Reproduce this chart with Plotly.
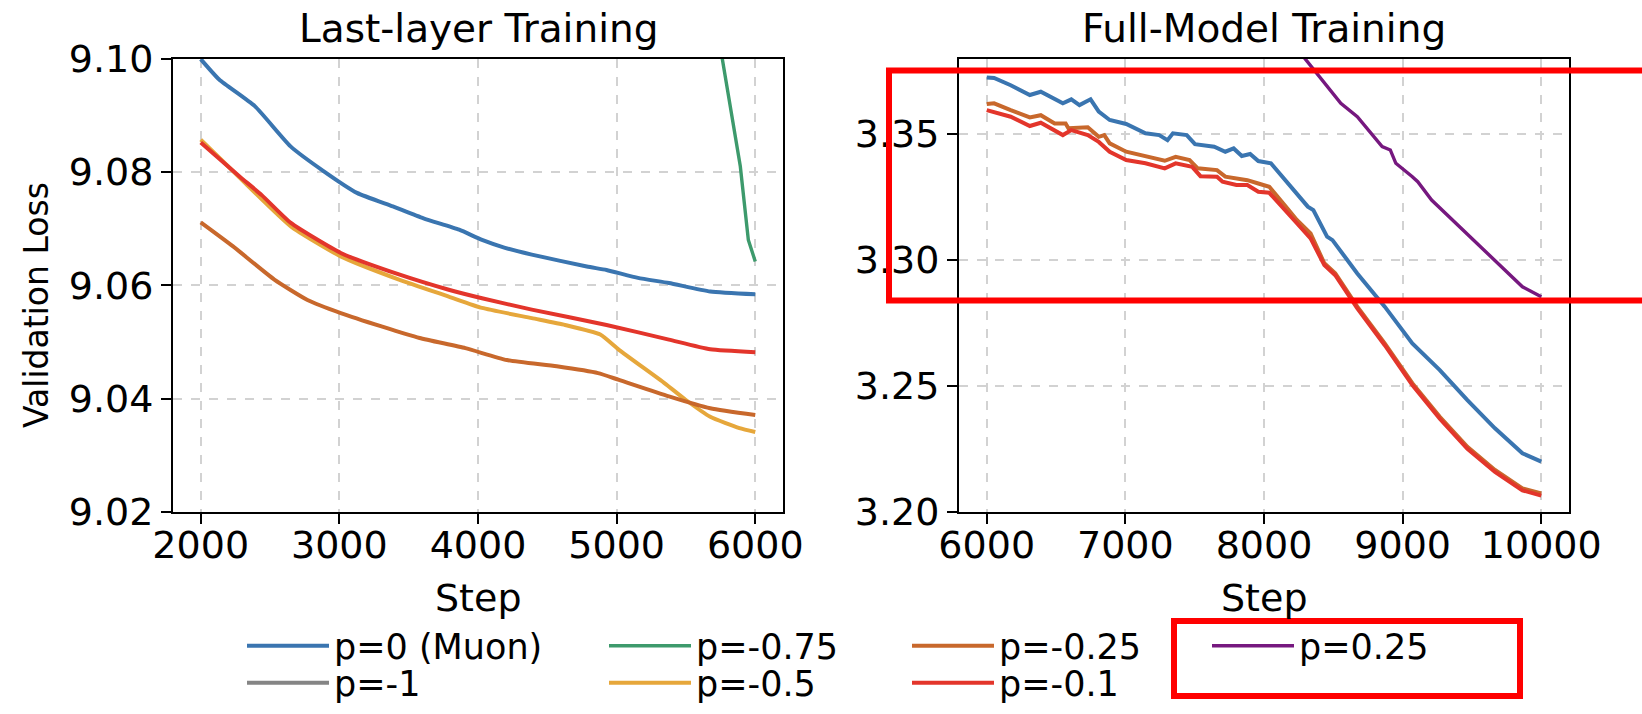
import plotly.graph_objects as go

# ---------------- data ----------------
# Last-layer training (left panel)
blue_L_x = [2000, 2133, 2390, 2648, 2888, 3127, 3386, 3607, 3864, 4029, 4195, 4388, 4785, 4927, 5154, 5377, 5675, 6000]
blue_L_y = [9.0999, 9.0963, 9.0916, 9.0845, 9.0801, 9.0763, 9.0739, 9.0718, 9.0698, 9.0680, 9.0666, 9.0654, 9.0633, 9.0627, 9.0613, 9.0604, 9.0589, 9.0584]

# p=-1 stays above the visible range in both panels (legend entry only)
gray_L_x = [None]
gray_L_y = [None]

green_L_x = [5700, 5760, 5892, 5950, 6000]
green_L_y = [9.109, 9.100, 9.081, 9.068, 9.0642]

yellow_L_x = [2000, 2280, 2650, 3010, 3430, 3789, 4029, 4388, 4628, 4882, 5017, 5347, 5497, 5675, 5886, 6000]
yellow_L_y = [9.0857, 9.0790, 9.0704, 9.0651, 9.0610, 9.0580, 9.0560, 9.0542, 9.0530, 9.0513, 9.0486, 9.0427, 9.0398, 9.0368, 9.0348, 9.0341]

orange_L_x = [2000, 2231, 2531, 2770, 3010, 3310, 3579, 3909, 4208, 4568, 4866, 5017, 5377, 5675, 6000]
orange_L_y = [9.0711, 9.0669, 9.0610, 9.0574, 9.0551, 9.0527, 9.0507, 9.0489, 9.0468, 9.0457, 9.0445, 9.0433, 9.0404, 9.0383, 9.0371]

red_L_x = [2000, 2280, 2440, 2650, 3010, 3430, 3789, 4029, 4388, 4927, 5377, 5675, 6000]
red_L_y = [9.0852, 9.0792, 9.0759, 9.0710, 9.0657, 9.0619, 9.0592, 9.0577, 9.0557, 9.0530, 9.0504, 9.0487, 9.0482]

# Full-model training (right panel)
blue_R_x = [6000, 6053, 6173, 6311, 6390, 6549, 6610, 6669, 6749, 6808, 6887, 7006, 7145, 7244, 7304, 7343, 7443, 7502,
            7641, 7721, 7781, 7840, 7900, 7959, 8050, 8197, 8316, 8356, 8455, 8494, 8673, 8871, 9070, 9268, 9467, 9666, 9864, 10000]
blue_R_y = [3.3725, 3.3723, 3.3694, 3.3655, 3.3668, 3.3622, 3.3638, 3.3615, 3.3638, 3.3589, 3.3556, 3.3540, 3.3503, 3.3496,
            3.3476, 3.3503, 3.3496, 3.3460, 3.3450, 3.3430, 3.3443, 3.3413, 3.3421, 3.3393, 3.3384, 3.3291, 3.3212, 3.3198,
            3.3093, 3.3079, 3.2947, 3.2815, 3.2669, 3.2563, 3.2444, 3.2332, 3.2233, 3.2200]

orange_R_x = [6000, 6053, 6173, 6311, 6390, 6490, 6569, 6589, 6729, 6808, 6848, 6887, 7006, 7145, 7284, 7363, 7463, 7522,
              7661, 7721, 7801, 7880, 7959, 8038, 8157, 8237, 8336, 8435, 8514, 8673, 8871, 9070, 9268, 9467, 9666, 9864, 10000]
orange_R_y = [3.3619, 3.3622, 3.3595, 3.3566, 3.3575, 3.3542, 3.3542, 3.3523, 3.3527, 3.3489, 3.3496, 3.3463, 3.3430,
              3.3413, 3.3394, 3.3410, 3.3397, 3.3364, 3.3357, 3.3331, 3.3324, 3.3317, 3.3304, 3.3291, 3.3212, 3.3159,
              3.3106, 3.2987, 3.2947, 3.2815, 3.2669, 3.2511, 3.2378, 3.2259, 3.2167, 3.2094, 3.2074]

red_R_x = [6000, 6173, 6311, 6390, 6549, 6610, 6729, 6808, 6887, 7006, 7145, 7284, 7363, 7482, 7542, 7661, 7701, 7801,
           7880, 7959, 8038, 8157, 8237, 8336, 8435, 8514, 8673, 8871, 9070, 9268, 9467, 9666, 9864, 10000]
red_R_y = [3.3595, 3.3569, 3.3532, 3.3545, 3.3496, 3.3516, 3.3496, 3.3469, 3.3430, 3.3397, 3.3384, 3.3364, 3.3384, 3.3370,
           3.3333, 3.3331, 3.3311, 3.3298, 3.3298, 3.3271, 3.3267, 3.3198, 3.3146, 3.3086, 3.2980, 3.2940, 3.2808, 3.2662,
           3.2504, 3.2370, 3.2251, 3.2159, 3.2086, 3.2065]

purple_R_x = [8200, 8296, 8396, 8554, 8673, 8772, 8852, 8911, 8951, 9070, 9109, 9209, 9348, 9507, 9666, 9785, 9864, 10000]
purple_R_y = [3.3865, 3.3800, 3.3734, 3.3622, 3.3569, 3.3503, 3.3450, 3.3437, 3.3384, 3.3331, 3.3311, 3.3238, 3.3165,
              3.3079, 3.3000, 3.2934, 3.2894, 3.2854]

left_xticks = [2000, 3000, 4000, 5000, 6000]
left_yticks = [9.02, 9.04, 9.06, 9.08, 9.10]
right_xticks = [6000, 7000, 8000, 9000, 10000]
right_yticks = [3.20, 3.25, 3.30, 3.35]

titles = ["Last-layer Training", "Full-Model Training"]
x_title = "Step"
y_title = "Validation Loss"

# ---------------- styling ----------------
W, H = 1642, 714
FONT = "DejaVu Sans"
C_BLUE, C_GRAY, C_GREEN = "#3a75b0", "#858585", "#3d9a6c"
C_YELLOW, C_ORANGE, C_RED, C_PURPLE = "#e6a73b", "#c8682c", "#e3352b", "#76187f"
LW = 4.0

fig = go.Figure()


def add(x, y, name, color, xa, ya, legend, show, width=LW, shape="linear"):
    fig.add_trace(go.Scatter(
        x=x, y=y, mode="lines", name=name,
        line=dict(color=color, width=width, shape=shape, smoothing=0.5 if shape == "spline" else None),
        xaxis=xa, yaxis=ya, legend=legend, showlegend=show, legendgroup=name))


# draw order follows the original legend order; one legend box per entry (4 columns x 2 rows)
add(blue_L_x, blue_L_y, "p=0 (Muon)", C_BLUE, "x", "y", "legend", True, shape="spline")
add(blue_R_x, blue_R_y, "p=0 (Muon)", C_BLUE, "x2", "y2", "legend", False)
add(gray_L_x, gray_L_y, "p=-1", C_GRAY, "x", "y", "legend2", True)
add(green_L_x, green_L_y, "p=-0.75", C_GREEN, "x", "y", "legend3", True, width=3.4)
add(yellow_L_x, yellow_L_y, "p=-0.5", C_YELLOW, "x", "y", "legend4", True, shape="spline")
add(orange_L_x, orange_L_y, "p=-0.25", C_ORANGE, "x", "y", "legend5", True, shape="spline")
add(orange_R_x, orange_R_y, "p=-0.25", C_ORANGE, "x2", "y2", "legend5", False)
add(red_L_x, red_L_y, "p=-0.1", C_RED, "x", "y", "legend6", True, shape="spline")
add(red_R_x, red_R_y, "p=-0.1", C_RED, "x2", "y2", "legend6", False)
add(purple_R_x, purple_R_y, "p=0.25", C_PURPLE, "x2", "y2", "legend7", True, width=3.4)


def px_x(p):
    return p / W


def px_y(p):
    return 1 - p / H


axis_common = dict(
    showline=True, mirror=True, linecolor="black", linewidth=2,
    ticks="outside", ticklen=10, tickwidth=2, tickcolor="black",
    showgrid=True, gridcolor="#d2d2d2", griddash="dash", gridwidth=1.5,
    zeroline=False, tickfont=dict(family=FONT, size=38, color="black"),
    automargin=False,
)

ydom = [px_y(512), px_y(58.5)]
fig.update_layout(
    xaxis=dict(axis_common, domain=[px_x(173), px_x(783)], range=[1800, 6200],
               tickvals=left_xticks, tickformat="d", anchor="y", ticklabelstandoff=-12),
    yaxis=dict(axis_common, domain=ydom, range=[9.02, 9.10], tickvals=left_yticks,
               tickformat=".2f", anchor="x", ticklabelstandoff=0),
    xaxis2=dict(axis_common, domain=[px_x(959), px_x(1569)], range=[5800, 10200],
                tickvals=right_xticks, tickformat="d", anchor="y2", ticklabelstandoff=-12),
    yaxis2=dict(axis_common, domain=ydom, range=[3.20, 3.38], tickvals=right_yticks,
                tickformat=".2f", anchor="x2", ticklabelstandoff=0),
)

# legend boxes: (line start x, row centre y) in pixels
leg_pos = {
    "legend": (247, 646), "legend2": (247, 683),
    "legend3": (609, 646), "legend4": (609, 683),
    "legend5": (912, 646), "legend6": (912, 683),
    "legend7": (1212, 646),
}
for key, (lx, ly) in leg_pos.items():
    fig.update_layout({key: dict(orientation="v", xanchor="left", yanchor="middle",
                                 x=px_x(lx - 5), y=px_y(ly),
                                 font=dict(family=FONT, size=35, color="black"),
                                 itemwidth=82, bgcolor="rgba(0,0,0,0)", borderwidth=0)})

for t, xc in zip(titles, [478, 1264]):
    fig.add_annotation(text=t, x=px_x(xc), y=px_y(29), xref="paper", yref="paper",
                       xanchor="center", yanchor="middle", showarrow=False,
                       font=dict(family=FONT, size=39, color="black"))
for xc in [478, 1264]:
    fig.add_annotation(text=x_title, x=px_x(xc), y=px_y(598), xref="paper", yref="paper",
                       xanchor="center", yanchor="middle", showarrow=False,
                       font=dict(family=FONT, size=38, color="black"))
fig.add_annotation(text=y_title, x=px_x(36), y=px_y(305), xref="paper", yref="paper",
                   xanchor="center", yanchor="middle", showarrow=False, textangle=-90,
                   font=dict(family=FONT, size=33, color="black"))

# red highlight boxes
fig.add_shape(type="rect", xref="paper", yref="paper", x0=px_x(889), x1=px_x(1700),
              y0=px_y(300.5), y1=px_y(70.5), line=dict(color="#ff0000", width=6))
fig.add_shape(type="rect", xref="paper", yref="paper", x0=px_x(1174), x1=px_x(1520),
              y0=px_y(696), y1=px_y(621), line=dict(color="#ff0000", width=6))

fig.update_layout(width=W, height=H,
                  margin=dict(l=0, r=0, t=0, b=0, pad=0, autoexpand=False),
                  paper_bgcolor="white", plot_bgcolor="white",
                  font=dict(family=FONT, color="black"))

fig.write_html("out.html")
